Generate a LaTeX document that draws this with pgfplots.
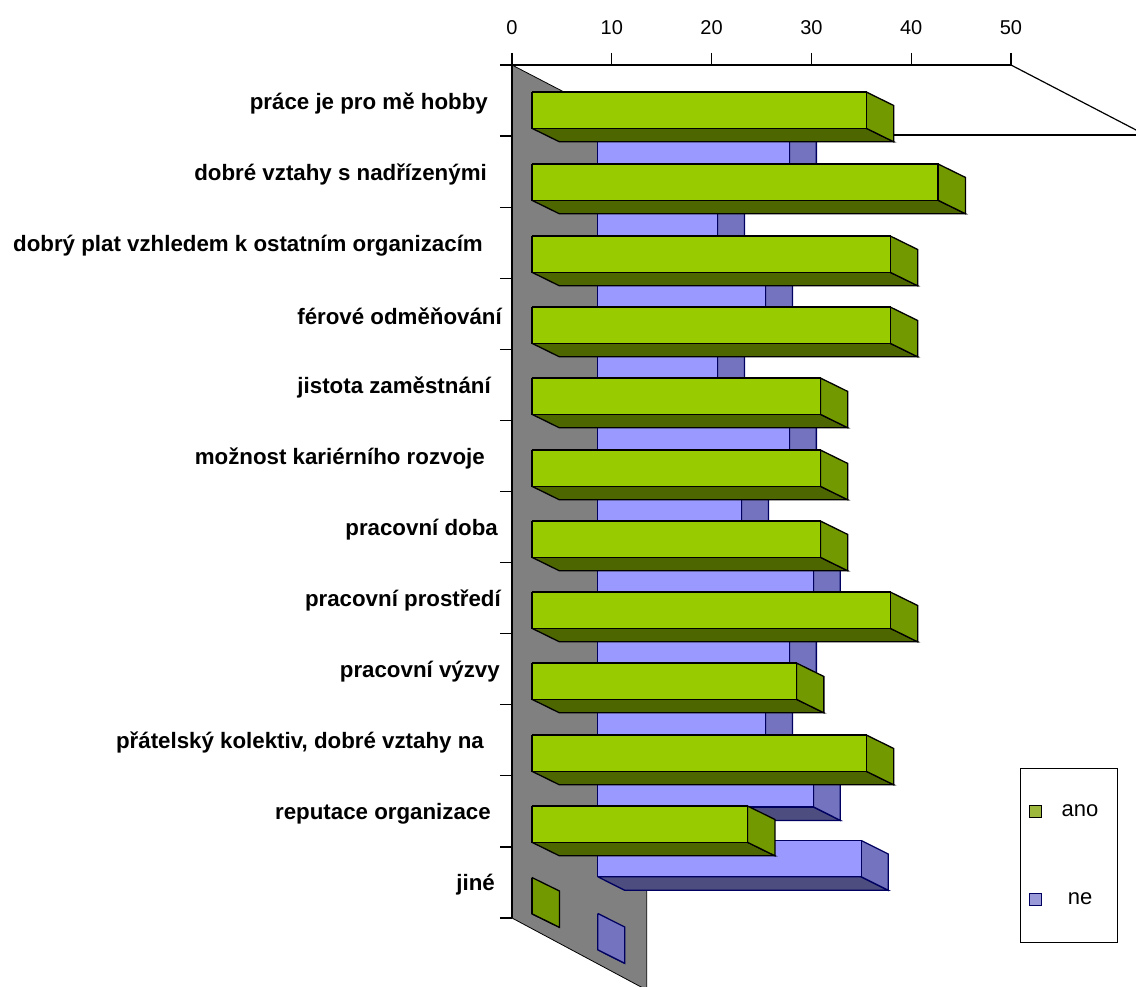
\documentclass[border=0pt]{standalone}
\usepackage{fontspec}
\setmainfont{Liberation Sans}
\usepackage{pgfplots}
\pgfplotsset{compat=1.18}

\definecolor{greenFront}{HTML}{99CC00}
\definecolor{greenSide}{HTML}{739900}
\definecolor{greenBottom}{HTML}{4D6600}
\definecolor{blueFront}{HTML}{9999FF}
\definecolor{blueSide}{HTML}{7373BF}
\definecolor{blueBottom}{HTML}{4D4D80}
\definecolor{blueEdge}{HTML}{000060}
\definecolor{wallGrey}{HTML}{808080}
\definecolor{keyGreen}{HTML}{9DB83C}
\definecolor{keyBlue}{HTML}{9A9AD8}

% One bar in oblique projection: #1 front, #2 side, #3 underside, #4 edge,
% #5 start on the value scale, #6 depth shift, #7 upper edge, #8 value.
\newcommand{\prism}[8]{%
  \pgfmathsetmacro\xa{#5}%
  \pgfmathsetmacro\xb{#5+#8}%
  \pgfmathsetmacro\xc{#5+#8+#6}%
  \pgfmathsetmacro\xd{#5+#6}%
  \pgfmathsetmacro\ya{#7}%
  \pgfmathsetmacro\yb{#7+36.3}%
  \pgfmathsetmacro\yc{#7+13.5}%
  \pgfmathsetmacro\yd{#7+49.8}%
  \addplot[forget plot,fill=#3,draw=#4,line width=1.3pt] coordinates
    {(\xa,\yb) (\xb,\yb) (\xc,\yd) (\xd,\yd) (\xa,\yb)};
  \addplot[forget plot,fill=#2,draw=#4,line width=1.3pt] coordinates
    {(\xb,\ya) (\xc,\yc) (\xc,\yd) (\xb,\yb) (\xb,\ya)};
  \addplot[forget plot,fill=#1,draw=#4,line width=1.3pt] coordinates
    {(\xa,\ya) (\xb,\ya) (\xb,\yb) (\xa,\yb) (\xa,\ya)};
}
\newcommand{\barAno}[2]{\prism{greenFront}{greenSide}{greenBottom}{black}{2.0}{2.75}{#1}{#2}}
\newcommand{\barNe}[2]{\prism{blueFront}{blueSide}{blueBottom}{blueEdge}{8.6}{2.7}{#1}{#2}}

\begin{document}
\begin{tikzpicture}[x=1pt,y=1pt]
\path[use as bounding box] (0,0) rectangle (1136,987);
\clip (0,0) rectangle (1136,987);
\begin{axis}[
  at={(512pt,69pt)}, anchor=south west,
  scale only axis, width=499pt, height=853pt,
  xmin=0, xmax=50, ymin=65, ymax=918, y dir=reverse,
  clip=false, axis on top,
  axis x line*=top, axis y line*=left,
  axis line style={line width=1.2pt, black},
  tick align=outside,
  xtick={0,10,...,50},
  /pgf/number format/assume math mode=true,
  x tick label style={font=\fontsize{20}{20}\selectfont, yshift=15pt},
  major tick length=12pt,
  minor tick length=12pt,
  every tick/.style={line width=1.2pt, black},
  ytick={100.5,171.6,242.7,313.8,384.9,455.9,527,598.1,669.2,740.3,811.4,882.5},
  minor ytick={65,136.1,207.2,278.2,349.3,420.4,491.5,562.6,633.7,704.8,775.8,846.9,918},
  y tick style={draw=none},
  minor y tick style={draw=black,line width=1.2pt},
  y tick label style={font=\fontsize{22.3}{22.3}\bfseries\selectfont, anchor=east, inner xsep=0pt, xshift=8pt, yshift=-2.5pt},
  yticklabels={
    práce je pro mě hobby\kern20pt,
    dobré vztahy s nadřízenými\kern21pt,
    dobrý plat vzhledem k ostatním organizacím\kern25pt,
    férové odměňování\kern6pt,
    jistota zaměstnání\kern17pt,
    možnost kariérního rozvoje\kern23pt,
    pracovní doba\kern10pt,
    pracovní prostředí\kern7pt,
    pracovní výzvy\kern8pt,
    {přátelský kolektiv, dobré vztahy na\kern24pt},
    reputace organizace\kern17pt,
    jiné\kern13pt},
  legend style={at={(axis cs:50.86,768)}, anchor=north west, draw=black,
    line width=1.2pt, fill=white, font=\fontsize{22}{22}\selectfont,
    row sep=71pt, inner xsep=9.5pt, inner ysep=34pt},
  legend cell align=center,
]
% Side wall and the floor line behind the bars
\addplot[forget plot,fill=wallGrey,draw=black,line width=0.8pt] coordinates
  {(0,65) (13.5,135) (13.5,990) (0,918) (0,65)};
\addplot[forget plot,draw=black,line width=1.2pt] coordinates
  {(13.5,135) (66,135)};
\addplot[forget plot,draw=black,line width=1.2pt] coordinates
  {(50,65) (66,148)};

% Series "ne"
\barNe{128.0}{19.2}
\barNe{199.4}{12.0}
\barNe{270.8}{16.8}
\barNe{342.2}{12.0}
\barNe{413.6}{19.2}
\barNe{485.0}{14.4}
\barNe{556.4}{21.6}
\barNe{627.8}{19.2}
\barNe{699.2}{16.8}
\barNe{770.6}{21.6}
\barNe{840.5}{26.4}
\barNe{913.5}{0}

% Series "ano"
\barAno{92.0}{33.5}
\barAno{164.0}{40.7}
\barAno{236.0}{35.9}
\barAno{307.0}{35.9}
\barAno{378.0}{28.9}
\barAno{450.0}{28.9}
\barAno{521.0}{28.9}
\barAno{592.0}{35.9}
\barAno{663.0}{26.5}
\barAno{735.0}{33.5}
\barAno{806.0}{21.6}
\barAno{877.5}{0}

\addlegendimage{only marks,mark=square*,mark size=6pt,mark options={fill=keyGreen,draw=black,line width=1pt}}
\addlegendentry{\kern18pt ano\kern8pt}
\addlegendimage{only marks,mark=square*,mark size=6pt,mark options={fill=keyBlue,draw=blueEdge,line width=1pt}}
\addlegendentry{\kern18pt ne\kern8pt}
\end{axis}
\end{tikzpicture}
\end{document}
